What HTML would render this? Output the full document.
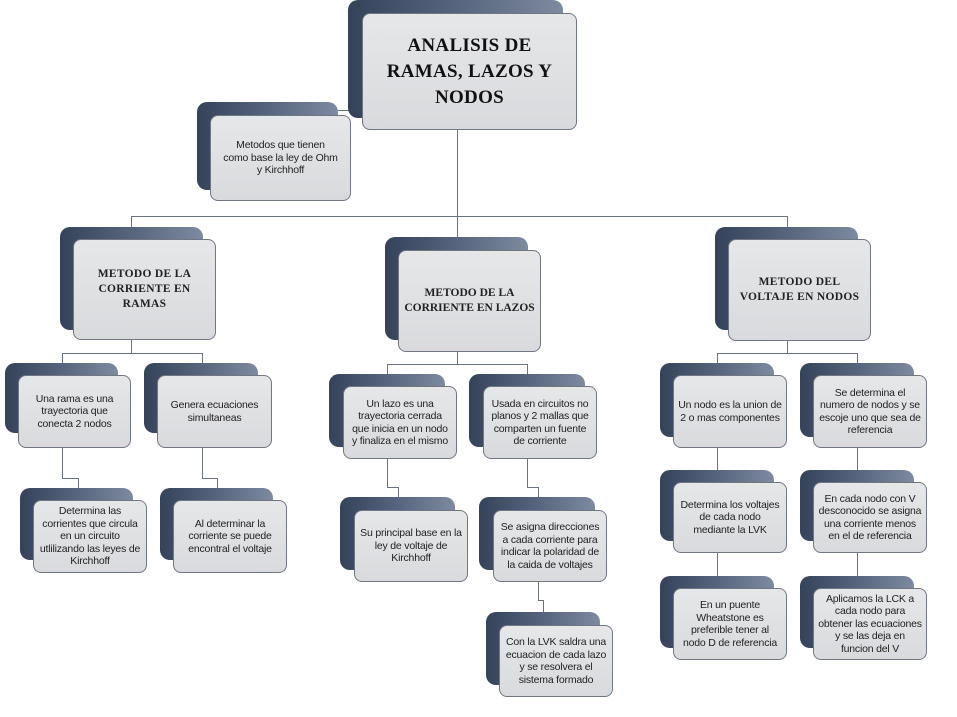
<!DOCTYPE html>
<html><head><meta charset="utf-8"><style>
body{margin:0;width:957px;height:717px;background:#fff;position:relative;overflow:hidden;font-family:"Liberation Sans",sans-serif}
.b{position:absolute;border-radius:10px;background:linear-gradient(90deg,#34425a 0%,#56647d 50%,#7d8aa0 100%)}
.f{position:absolute;border-radius:8px;background:linear-gradient(180deg,#e6e7e9,#d9dadd);border:1px solid #707682;box-sizing:border-box;display:flex;align-items:center;justify-content:center;text-align:center;font-size:10.5px;line-height:12.5px;color:#222;letter-spacing:-0.2px;padding:0 11px}
.t{font-family:"Liberation Serif",serif;font-weight:bold;font-size:11.5px;line-height:15px;letter-spacing:0.3px;color:#222}
.l{position:absolute;background:#6b7280}
</style></head><body>
<div class="l" style="left:457px;top:130px;width:1px;height:87px"></div>
<div class="l" style="left:338px;top:110px;width:11px;height:1px"></div>
<div class="l" style="left:131px;top:216px;width:657px;height:1px"></div>
<div class="l" style="left:131px;top:216px;width:1px;height:12px"></div>
<div class="l" style="left:457px;top:216px;width:1px;height:22px"></div>
<div class="l" style="left:787px;top:216px;width:1px;height:12px"></div>
<div class="l" style="left:131px;top:340px;width:1px;height:13px"></div>
<div class="l" style="left:62px;top:353px;width:141px;height:1px"></div>
<div class="l" style="left:62px;top:353px;width:1px;height:126px"></div>
<div class="l" style="left:202px;top:353px;width:1px;height:126px"></div>
<div class="l" style="left:62px;top:478px;width:16px;height:1px"></div>
<div class="l" style="left:78px;top:478px;width:1px;height:11px"></div>
<div class="l" style="left:202px;top:478px;width:15px;height:1px"></div>
<div class="l" style="left:217px;top:478px;width:1px;height:11px"></div>
<div class="l" style="left:457px;top:352px;width:1px;height:12px"></div>
<div class="l" style="left:387px;top:364px;width:141px;height:1px"></div>
<div class="l" style="left:387px;top:364px;width:1px;height:124px"></div>
<div class="l" style="left:527px;top:364px;width:1px;height:124px"></div>
<div class="l" style="left:387px;top:487px;width:11px;height:1px"></div>
<div class="l" style="left:398px;top:487px;width:1px;height:11px"></div>
<div class="l" style="left:527px;top:487px;width:11px;height:1px"></div>
<div class="l" style="left:538px;top:487px;width:1px;height:114px"></div>
<div class="l" style="left:538px;top:600px;width:5px;height:1px"></div>
<div class="l" style="left:543px;top:600px;width:1px;height:12px"></div>
<div class="l" style="left:787px;top:341px;width:1px;height:12px"></div>
<div class="l" style="left:717px;top:353px;width:141px;height:1px"></div>
<div class="l" style="left:717px;top:353px;width:1px;height:236px"></div>
<div class="l" style="left:857px;top:353px;width:1px;height:236px"></div>

<div class="b" style="left:348px;top:0;width:215px;height:118px"></div>
<div class="f" style="left:362px;top:13px;width:215px;height:117px;font-family:'Liberation Serif',serif;font-weight:bold;font-size:19px;line-height:26px;letter-spacing:0.3px;color:#111;padding:0 20px">ANALISIS DE RAMAS, LAZOS Y NODOS</div>
<div class="b" style="left:197px;top:102px;width:141px;height:88px"></div>
<div class="f" style="left:210px;top:115px;width:141px;height:86px;padding:0 12px">Metodos que tienen como base la ley de Ohm y Kirchhoff</div>

<div class="b" style="left:60px;top:227px;width:143px;height:103px"></div>
<div class="f t" style="left:73px;top:239px;width:143px;height:101px;padding:0 22px">METODO DE LA CORRIENTE EN RAMAS</div>
<div class="b" style="left:385px;top:237px;width:143px;height:103px"></div>
<div class="f t" style="left:398px;top:250px;width:143px;height:102px;padding:0 2px;letter-spacing:0">METODO DE LA CORRIENTE EN LAZOS</div>
<div class="b" style="left:715px;top:227px;width:143px;height:103px"></div>
<div class="f t" style="left:728px;top:239px;width:143px;height:102px;padding:0 4px">METODO DEL VOLTAJE EN NODOS</div>

<div class="b" style="left:5px;top:363px;width:113px;height:70px"></div>
<div class="f" style="left:18px;top:375px;width:113px;height:73px;padding:0 14px">Una rama es una trayectoria que conecta 2 nodos</div>
<div class="b" style="left:144px;top:363px;width:114px;height:70px"></div>
<div class="f" style="left:157px;top:375px;width:115px;height:73px">Genera ecuaciones simultaneas</div>
<div class="b" style="left:20px;top:488px;width:113px;height:72px"></div>
<div class="f" style="left:33px;top:500px;width:114px;height:73px;padding:0 4px">Determina las corrientes que circula en un circuito utlilizando las leyes de Kirchhoff</div>
<div class="b" style="left:160px;top:488px;width:113px;height:72px"></div>
<div class="f" style="left:173px;top:500px;width:114px;height:73px;padding:0 8px">Al determinar la corriente se puede encontral el voltaje</div>

<div class="b" style="left:329px;top:374px;width:116px;height:73px"></div>
<div class="f" style="left:343px;top:386px;width:114px;height:73px;padding:0 5px">Un lazo es una trayectoria cerrada que inicia en un nodo y finaliza en el mismo</div>
<div class="b" style="left:469px;top:374px;width:116px;height:73px"></div>
<div class="f" style="left:483px;top:386px;width:114px;height:73px;padding:0 5px">Usada en circuitos no planos y 2 mallas que comparten un fuente de corriente</div>
<div class="b" style="left:340px;top:497px;width:115px;height:73px"></div>
<div class="f" style="left:354px;top:510px;width:114px;height:72px;padding:0 5px">Su principal base en la ley de voltaje de Kirchhoff</div>
<div class="b" style="left:479px;top:497px;width:116px;height:73px"></div>
<div class="f" style="left:493px;top:510px;width:114px;height:72px;padding:0 4px">Se asigna direcciones a cada corriente para indicar la polaridad de la caida de voltajes</div>
<div class="b" style="left:486px;top:612px;width:114px;height:73px"></div>
<div class="f" style="left:499px;top:625px;width:114px;height:72px;padding:0 5px">Con la LVK saldra una ecuacion de cada lazo y se resolvera el sistema formado</div>

<div class="b" style="left:660px;top:363px;width:114px;height:74px"></div>
<div class="f" style="left:673px;top:375px;width:114px;height:73px;padding:0 4px">Un nodo es la union de 2 o mas componentes</div>
<div class="b" style="left:800px;top:363px;width:114px;height:74px"></div>
<div class="f" style="left:813px;top:375px;width:114px;height:73px;padding:0 4px">Se determina el numero de nodos y se escoje uno que sea de referencia</div>
<div class="b" style="left:660px;top:470px;width:114px;height:71px"></div>
<div class="f" style="left:673px;top:482px;width:114px;height:71px;padding:0 4px">Determina los voltajes de cada nodo mediante la LVK</div>
<div class="b" style="left:800px;top:470px;width:114px;height:71px"></div>
<div class="f" style="left:813px;top:482px;width:114px;height:71px;padding:0 4px">En cada nodo con V desconocido se asigna una corriente menos en el de referencia</div>
<div class="b" style="left:660px;top:576px;width:114px;height:72px"></div>
<div class="f" style="left:673px;top:588px;width:114px;height:72px;padding:0 8px">En un puente Wheatstone es preferible tener al nodo D de referencia</div>
<div class="b" style="left:800px;top:576px;width:114px;height:72px"></div>
<div class="f" style="left:813px;top:588px;width:114px;height:72px;padding:0 4px">Aplicamos la LCK a cada nodo para obtener las ecuaciones y se las deja en funcion del V</div>
</body></html>
